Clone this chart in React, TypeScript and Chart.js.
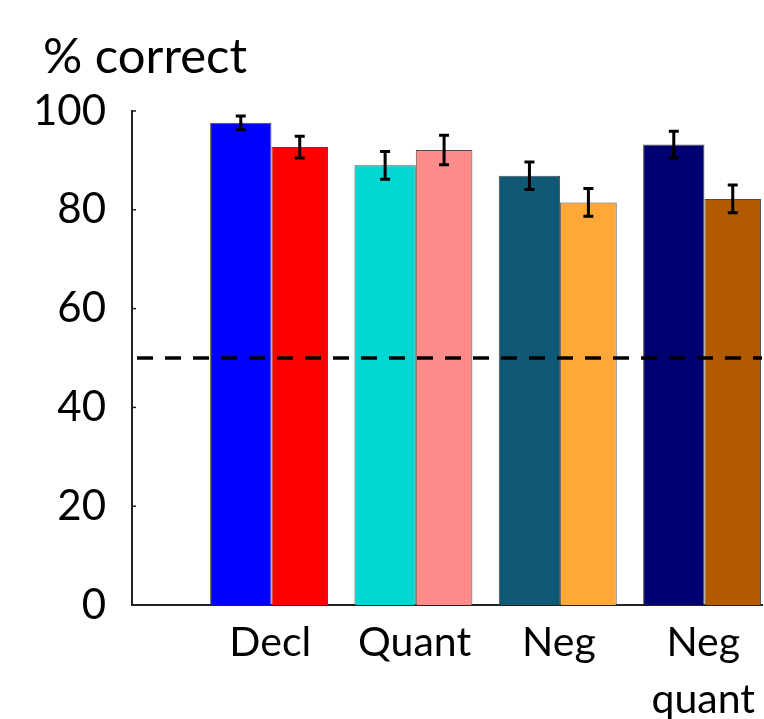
import { useEffect, useRef } from "react";
import { Chart, registerables } from "chart.js";

Chart.register(...registerables);

const categories: (string | string[])[] = ["Decl", "Quant", "Neg", ["Neg", "quant"]];
const groupPositions = [0, 1, 2, 3];
const firstValues = [97.6, 89.0, 86.9, 93.2];
const firstErrors = [1.4, 2.8, 2.8, 2.7];
const secondValues = [92.7, 92.1, 81.5, 82.2];
const secondErrors = [2.2, 3.0, 2.8, 2.8];
const firstColors = ["#0000FF", "#00D6D2", "#0F5876", "#000070"];
const secondColors = ["#FF0000", "#FF8B8B", "#FFA838", "#B35A00"];
const yTickValues = [0, 20, 40, 60, 80, 100];
const chanceLevel = 50;
const yTitle = "% correct";

const FONT = "Lato, 'Open Sans', sans-serif";

export default function App() {
  const canvasRef = useRef<HTMLCanvasElement | null>(null);

  useEffect(() => {
    const canvas = canvasRef.current;
    if (!canvas) return;

    const errorsByDataset = [firstErrors, secondErrors];
    const valuesByDataset = [firstValues, secondValues];

    const overlayPlugin = {
      id: "overlay",
      afterDatasetsDraw(chart: any) {
        const { ctx, chartArea, scales } = chart;
        const y = scales.y;
        ctx.save();
        // chance line
        const yy = y.getPixelForValue(chanceLevel);
        ctx.strokeStyle = "#000";
        ctx.lineWidth = 3.5;
        ctx.setLineDash([16, 12]);
        ctx.lineDashOffset = -5;
        ctx.beginPath();
        ctx.moveTo(chartArea.left, yy);
        ctx.lineTo(chartArea.right, yy);
        ctx.stroke();
        ctx.setLineDash([]);
        // error bars
        ctx.lineWidth = 3;
        ctx.strokeStyle = "#000";
        for (let d = 0; d < 2; d++) {
          const meta = chart.getDatasetMeta(d);
          meta.data.forEach((bar: any, i: number) => {
            const v = valuesByDataset[d][i];
            const e = errorsByDataset[d][i];
            const top = y.getPixelForValue(v + e);
            const bot = y.getPixelForValue(v - e);
            const x = bar.x;
            ctx.beginPath();
            ctx.moveTo(x, top);
            ctx.lineTo(x, bot);
            ctx.moveTo(x - 5, top);
            ctx.lineTo(x + 5, top);
            ctx.moveTo(x - 5, bot);
            ctx.lineTo(x + 5, bot);
            ctx.stroke();
          });
        }
        ctx.restore();
      },
      afterDraw(chart: any) {
        const { ctx, chartArea, scales } = chart;
        const y = scales.y;
        ctx.save();
        // inner tick marks
        ctx.strokeStyle = "#222";
        ctx.lineWidth = 1.5;
        yTickValues.forEach((v) => {
          const p = y.getPixelForValue(v);
          ctx.beginPath();
          ctx.moveTo(chartArea.left, p);
          ctx.lineTo(chartArea.left + 4, p);
          ctx.stroke();
        });
        // axis title
        ctx.fillStyle = "#000";
        ctx.font = `49px ${FONT}`;
        ctx.textBaseline = "alphabetic";
        ctx.textAlign = "left";
        ctx.fillText(yTitle, 43, 73);
        ctx.restore();
      },
    };

    const chart = new Chart(canvas, {
      type: "bar",
      data: {
        datasets: [
          {
            data: groupPositions.map((x, i) => ({ x, y: firstValues[i] })),
            backgroundColor: firstColors,
            borderColor: "#4a4a4a",
            borderWidth: 1,
            barPercentage: 1.04,
            categoryPercentage: 0.817,
          },
          {
            data: groupPositions.map((x, i) => ({ x, y: secondValues[i] })),
            backgroundColor: secondColors,
            borderColor: "#4a4a4a",
            borderWidth: 1,
            barPercentage: 0.96,
            categoryPercentage: 0.817,
          },
        ],
      },
      options: {
        animation: false,
        responsive: false,
        devicePixelRatio: 1,
        layout: { padding: { top: 111, left: 0, right: 0, bottom: 0 } },
        plugins: {
          legend: { display: false },
          tooltip: { enabled: false },
          title: { display: false },
        },
        scales: {
          x: {
            type: "linear",
            offset: false,
            min: -0.958,
            max: 3.407,
            afterBuildTicks: (scale: any) => {
              scale.ticks = groupPositions.map((v) => ({ value: v }));
            },
            afterFit: (scale: any) => {
              scale.height = 114;
            },
            grid: { display: false, drawTicks: false, offset: false },
            border: { display: true, color: "#222", width: 2 },
            ticks: {
              autoSkip: false,
              maxRotation: 0,
              minRotation: 0,
              padding: 9,
              color: "#000",
              font: { family: FONT, size: 41, lineHeight: 1.4 },
              callback: (value: any) => categories[Math.round(Number(value))] ?? "",
            },
          },
          y: {
            min: 0,
            max: 100,
            afterBuildTicks: (scale: any) => {
              scale.ticks = yTickValues.map((v) => ({ value: v }));
            },
            afterFit: (scale: any) => {
              scale.width = 132;
            },
            grid: { display: false, drawTicks: false },
            border: { display: true, color: "#222", width: 2 },
            ticks: {
              padding: 26,
              color: "#000",
              font: { family: FONT, size: 42 },
            },
          },
        },
      },
      plugins: [overlayPlugin],
    });

    return () => chart.destroy();
  }, []);

  return (
    <div style={{ position: "absolute", left: 0, top: 0, width: 764, height: 719, background: "#fff" }}>
      <canvas ref={canvasRef} width={764} height={719} />
    </div>
  );
}
